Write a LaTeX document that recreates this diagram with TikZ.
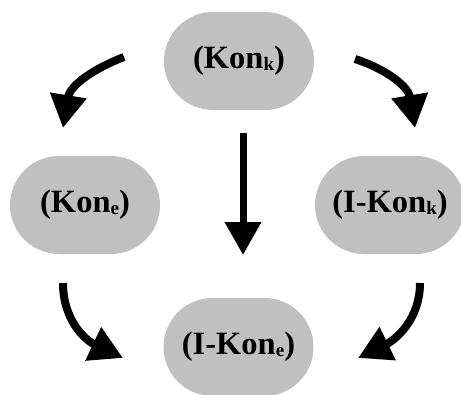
\documentclass[tikz,border=0pt]{standalone}
\usepackage{fontspec}
\setmainfont{Liberation Serif}
\usetikzlibrary{shapes.misc,arrows.meta}
\definecolor{nodegray}{RGB}{192,192,192}
\newcommand{\mysub}[1]{\raisebox{-2pt}{\fontsize{19}{19}\selectfont #1}}
\tikzset{
  statebox/.style={rounded rectangle, fill=nodegray, draw=none,
    minimum width=150pt, minimum height=98pt, inner sep=0pt,
    font=\fontsize{32.5}{32.5}\selectfont\bfseries},
  bigarrow/.style={line width=8pt, -{Triangle[length=33pt,width=35pt]}},
}
\begin{document}
\begin{tikzpicture}[x=1pt,y=-1pt]
\useasboundingbox (0,0) rectangle (461,394);
\node[statebox] (konk)  at (239,61)  {(Kon\mysub{k})};
\node[statebox] (kone)  at (85,205)  {(Kon\mysub{e})};
\node[statebox] (ikonk) at (390,205) {(I-Kon\mysub{k})};
\node[statebox] (ikone) at (238.5,347) {(I-Kon\mysub{e})};
\coordinate (a1s) at (124,57);  \coordinate (a1e) at (63,128);
\coordinate (a2s) at (355,59);  \coordinate (a2e) at (415,128);
\coordinate (a3s) at (243,133); \coordinate (a3e) at (243,255);
\coordinate (a4s) at (63,283);  \coordinate (a4e) at (123,358);
\coordinate (a5s) at (420,283); \coordinate (a5e) at (358,358);
\draw[bigarrow] (a1s) .. controls (95,68) and (70,85) .. (a1e);
\draw[bigarrow] (a2s) .. controls (383,68) and (408,85) .. (a2e);
\draw[bigarrow, line width=7pt] (a3s) -- (a3e);
\draw[bigarrow] (a4s) .. controls (63,320) and (85,340) .. (a4e);
\draw[bigarrow] (a5s) .. controls (420,320) and (395,340) .. (a5e);
\end{tikzpicture}
\end{document}
